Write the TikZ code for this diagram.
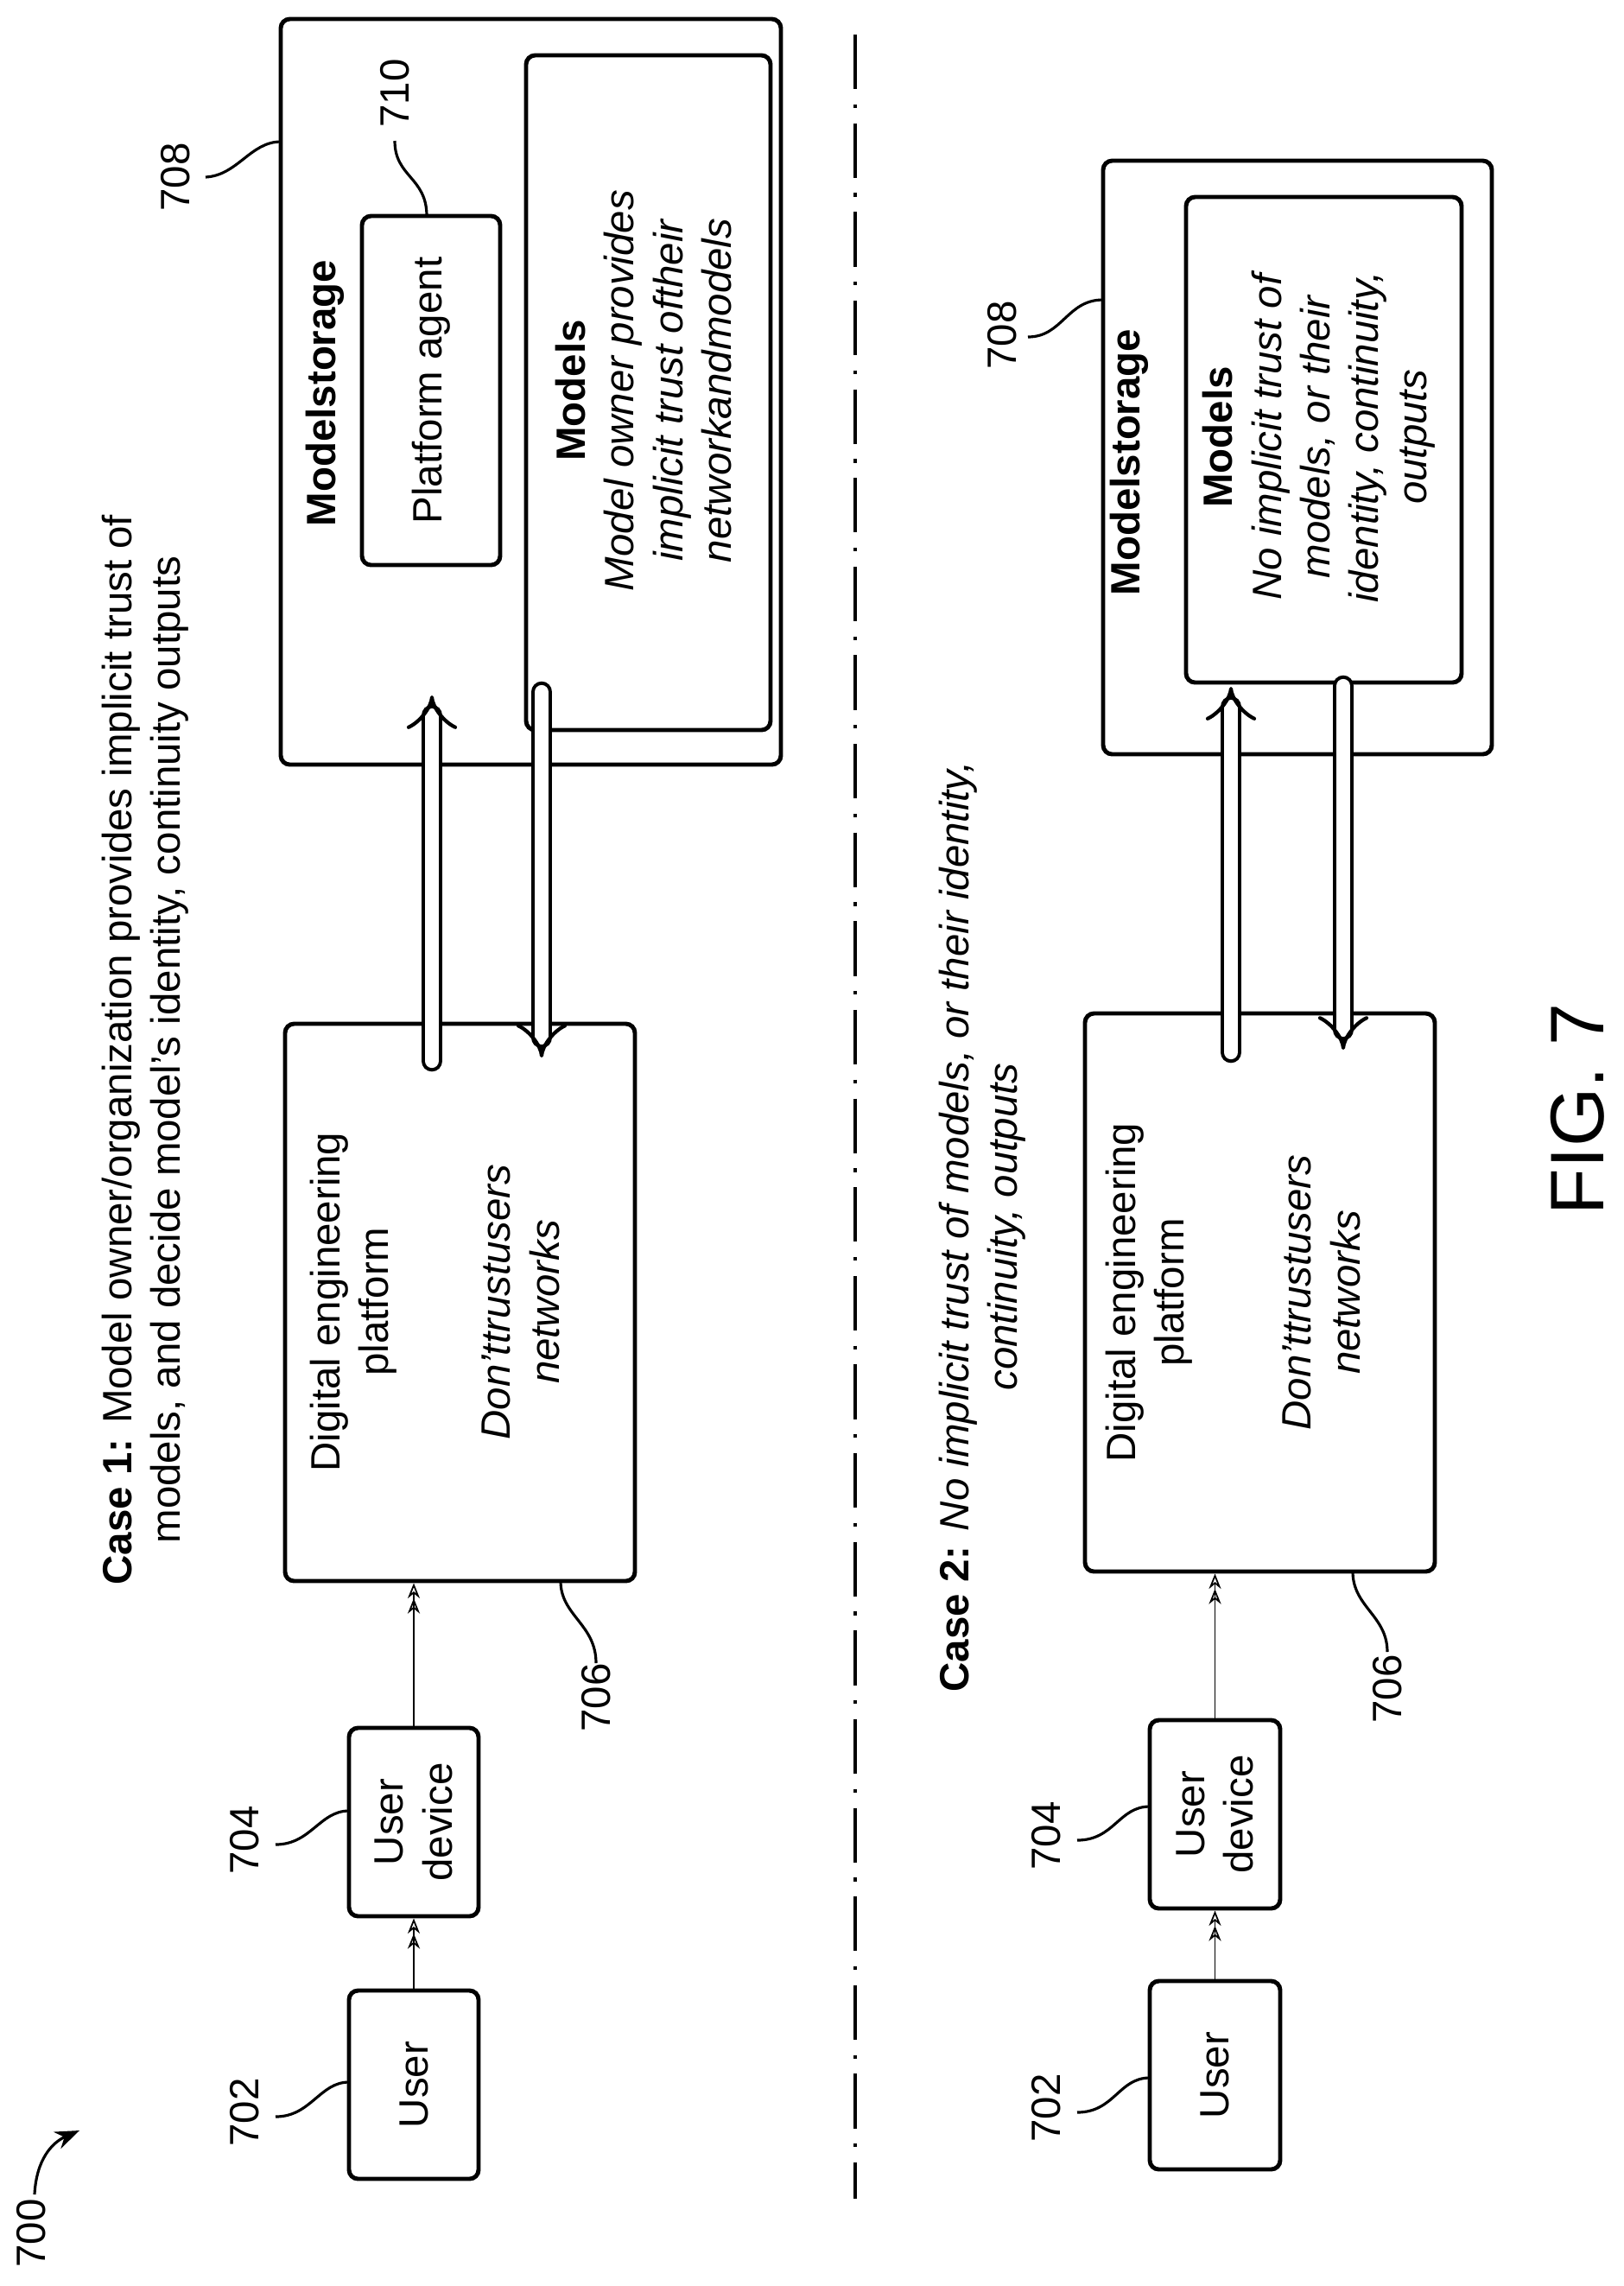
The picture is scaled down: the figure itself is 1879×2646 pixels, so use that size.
\documentclass[tikz,border=0pt]{standalone}
\usepackage{fontspec}
\setmainfont{Liberation Sans}
\usetikzlibrary{arrows.meta}
\begin{document}
\begin{tikzpicture}[x=0.1mm,y=-0.1mm,
  box/.style={draw,line width=1.4pt,rounded corners=3pt,rotate=90,inner sep=0pt,font=\fontsize{13.5}{16}\selectfont,align=center},
  sz/.style 2 args={minimum width=0.1mm*#1,minimum height=0.1mm*#2},
  txt/.style={rotate=90,inner sep=0pt,font=\fontsize{13.5}{16}\selectfont,align=center},
  lead/.style={line width=0.9pt},
  big/.style={line width=1.2pt,double,double distance=4.6pt,line cap=round},
  up/.style={big,-{Implies}},
  thin/.style={line width=0.5pt,-{Stealth[length=5pt,width=4pt,open]Stealth[length=5pt,width=4pt,open]}}]
\useasboundingbox (0,0) rectangle (1879,2646);
% divider
\draw[line width=1pt,dash pattern=on 18pt off 5pt on 1.2pt off 5pt] (990,40) -- (990,2545);
% ---------- Case 1
\node[txt] (c1) at (168,1215) {\textbf{Case 1:} Model owner/organization provides implicit trust of\\models, and decide model's identity, continuity outputs};
\node[box,sz={863}{579}] (ms1) at (614.5,453.5) {};
\node[txt,font=\fontsize{13.5}{16}\selectfont\bfseries] (ms1t) at (376,455) {Modelstorage};
\node[box,sz={781}{283}] (mo1) at (750.5,454.5) {};
\node[txt] (mo1t) at (745,452) {\textbf{Models}\\\itshape Model owner provides\\\itshape implicit trust oftheir\\\itshape networkandmodels};
\node[box,sz={404}{160}] (pa) at (499,452) {Platform agent};
\node[box,sz={645}{405}] (dep1) at (532.5,1507.5) {};
\node[txt] (dep1a) at (409,1507) {Digital engineering\\platform};
\node[txt] (dep1b) at (603,1507) {\itshape Don'ttrustusers\\\itshape networks};
\node[box,sz={218}{150}] (dev1) at (479,2109) {User\\device};
\node[box,sz={218}{150}] (u1) at (479,2413) {User};
\draw[thin] (u1.east) -- (dev1.west);
\draw[thin] (dev1.east) -- (dev1.east |- dep1.west);
\coordinate (a1s) at (500,1228); \coordinate (a1e) at (500,805);
\coordinate (b1s) at (627,801); \coordinate (b1e) at (627,1224);
\draw[up] (a1s) -- (a1e);
\draw[up] (b1s) -- (b1e);
% labels case 1
\node[txt] (l708a) at (203,205) {708};
\draw[lead] (238,205) .. controls (275,203) and (290,164) .. (325,164);
\node[txt] (l710) at (457,108) {710};
\draw[lead] (457,163) .. controls (457,205) and (494,205) .. (494,250);
\node[txt] (l706a) at (690,1965) {706};
\draw[lead] (690,1925) .. controls (690,1880) and (649,1870) .. (649,1830);
\node[txt] (l704a) at (283,2130) {704};
\draw[lead] (319,2135) .. controls (360,2135) and (370,2096) .. (404,2096);
\node[txt] (l702a) at (283,2445) {702};
\draw[lead] (319,2450) .. controls (360,2450) and (370,2410) .. (404,2410);
% ---------- Case 2
\node[txt] (c2) at (1137,1420) {\textbf{Case 2:} \itshape No implicit trust of models, or their identity,\\\itshape continuity, outputs};
\node[box,sz={687}{450}] (ms2) at (1502,529.5) {};
\node[txt,font=\fontsize{13.5}{16}\selectfont\bfseries] (ms2t) at (1307,535) {Modelstorage};
\node[box,sz={562}{319}] (mo2) at (1532.5,509) {};
\node[txt] (mo2t) at (1527,506) {\textbf{Models}\\\itshape No implicit trust of\\\itshape models, or their\\\itshape identity, continuity,\\\itshape outputs};
\node[box,sz={646}{405}] (dep2) at (1458.5,1496) {};
\node[txt] (dep2a) at (1330,1496) {Digital engineering\\platform};
\node[txt] (dep2b) at (1530,1496) {\itshape Don'ttrustusers\\\itshape networks};
\node[box,sz={218}{151}] (dev2) at (1406.5,2100) {User\\device};
\node[box,sz={218}{151}] (u2) at (1406.5,2402) {User};
\draw[thin] (u2.east) -- (dev2.west);
\draw[thin] (dev2.east) -- (dev2.east |- dep2.west);
\coordinate (a2s) at (1425,1218); \coordinate (a2e) at (1425,795);
\coordinate (b2s) at (1555,794); \coordinate (b2e) at (1555,1215);
\draw[up] (a2s) -- (a2e);
\draw[up] (b2s) -- (b2e);
\node[txt] (l708b) at (1160,388) {708};
\draw[lead] (1190,390) .. controls (1230,390) and (1235,347) .. (1277,347);
\node[txt] (l706b) at (1606,1955) {706};
\draw[lead] (1606,1912) .. controls (1606,1870) and (1566,1860) .. (1566,1819);
\node[txt] (l704b) at (1211,2125) {704};
\draw[lead] (1247,2130) .. controls (1290,2130) and (1295,2091) .. (1331,2091);
\node[txt] (l702b) at (1211,2440) {702};
\draw[lead] (1247,2445) .. controls (1290,2445) and (1295,2405) .. (1331,2405);
% 700
\node[txt] (l700) at (36,2585) {700};
\coordinate (a700) at (92,2466);
\draw[lead,-{Stealth[length=8pt,width=6pt]}] (40,2540) .. controls (42,2500) and (60,2480) .. (a700);
% FIG
\node[txt,font=\fontsize{25}{30}\selectfont] (fig) at (1826,1284) {FIG. 7};
\end{tikzpicture}
\end{document}
